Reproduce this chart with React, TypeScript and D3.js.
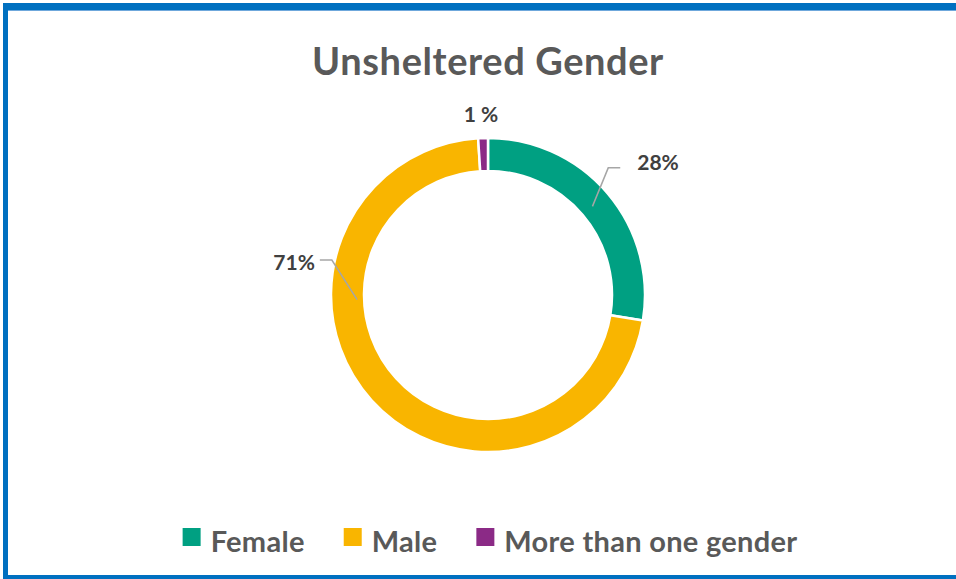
import { useEffect, useRef } from 'react';
import * as d3 from 'd3';

const categories = ['Female', 'Male', 'More than one gender'];
const shares = [27.6, 71.4, 1.0];
const shareLabels = ['28%', '71%', '1 %'];
const colors = ['#00A082', '#F9B500', '#8B2A86'];

const width = 956;
const height = 579;

export default function App() {
  const svgRef = useRef<SVGSVGElement>(null);

  useEffect(() => {
    const svg = d3.select(svgRef.current);
    svg.selectAll('*').remove();

    svg.append('rect').attr('width', width).attr('height', height).attr('fill', '#ffffff');

    // frame (right side is cut off in the screenshot)
    const blue = '#0070C0';
    svg.append('rect').attr('x', 3).attr('y', 3).attr('width', width - 3).attr('height', 7).attr('fill', blue);
    svg.append('rect').attr('x', 3).attr('y', 3).attr('width', 5).attr('height', height - 3).attr('fill', blue);
    svg.append('line').attr('x1', 8).attr('x2', width).attr('y1', 10.5).attr('y2', 10.5)
      .attr('stroke', '#6FA8DC').attr('stroke-width', 1);

    const font = 'Lato, "Open Sans", sans-serif';

    svg.append('text')
      .attr('x', 488).attr('y', 75)
      .attr('text-anchor', 'middle')
      .style('font-family', font).style('font-weight', 700).style('font-size', '38px')
      .style('letter-spacing', '0.6px')
      .attr('fill', '#595959')
      .text('Unsheltered Gender');

    const cx = 488, cy = 295;
    const outerR = 157, innerR = 124;

    const pie = d3.pie<number>().sort(null).value(d => d);
    const arcs = pie(shares);
    const arc = d3.arc<d3.PieArcDatum<number>>().innerRadius(innerR).outerRadius(outerR);

    const g = svg.append('g').attr('transform', `translate(${cx},${cy})`);
    g.selectAll('path')
      .data(arcs)
      .enter()
      .append('path')
      .attr('d', arc)
      .attr('fill', (d, i) => colors[i])
      .attr('stroke', '#ffffff')
      .attr('stroke-width', 2.5);

    // label placement as Excel left it: leader start/elbow given as angle (deg) + radius
    const deg = Math.PI / 180;
    const pt = (a: number, r: number): [number, number] => [Math.sin(a * deg) * r, -Math.cos(a * deg) * r];
    const layouts = [
      { start: [null, 137], elbow: [43.4, 175], dir: 1, gap: 17, base: 2 },
      { start: [268, 131], elbow: [282.6, 160], dir: -1, gap: 5, base: 10 },
      { start: null, text: [357.8, 181] },
    ] as any[];

    arcs.forEach((a, i) => {
      const L = layouts[i];
      const mid = (a.startAngle + a.endAngle) / 2 / deg;
      const label = g.append('text')
        .style('font-family', font).style('font-weight', 700).style('font-size', '21px')
        .attr('fill', '#404040')
        .text(shareLabels[i]);
      if (L.start) {
        const s = pt(L.start[0] ?? mid, L.start[1]);
        const e = pt(L.elbow[0], L.elbow[1]);
        const end: [number, number] = [e[0] + 12 * L.dir, e[1]];
        g.append('path')
          .attr('d', d3.line()([s, e, end]))
          .attr('fill', 'none')
          .attr('stroke', '#A6A6A6')
          .attr('stroke-width', 1.5);
        label
          .attr('x', end[0] + L.gap * L.dir)
          .attr('y', end[1] + L.base)
          .attr('text-anchor', L.dir > 0 ? 'start' : 'end');
      } else {
        const p = pt(L.text[0], L.text[1]);
        label
          .attr('x', p[0]).attr('y', p[1])
          .attr('dy', '0.36em')
          .attr('text-anchor', 'middle');
      }
    });

    // legend
    const legend = svg.append('g');
    const sq = 18, gapText = 10, gapItem = 39;
    let x = 0;
    categories.forEach((c, i) => {
      const it = legend.append('g');
      it.append('rect').attr('x', 0).attr('y', -24).attr('width', sq).attr('height', sq).attr('fill', colors[i]);
      const t = it.append('text')
        .attr('x', sq + gapText).attr('y', 0)
        .style('font-family', font).style('font-weight', 700).style('font-size', '29px')
        .style('letter-spacing', '0.3px')
        .attr('fill', '#595959')
        .text(c);
      const w = sq + gapText + (t.node() as SVGTextElement).getComputedTextLength();
      it.attr('transform', `translate(${x},0)`);
      x += w + gapItem;
    });
    const total = x - gapItem;
    legend.attr('transform', `translate(${490 - total / 2},552)`);

    // bottom frame drawn over legend text (text is clipped there)
    svg.append('rect').attr('x', 3).attr('y', height - 4).attr('width', width - 3).attr('height', 4).attr('fill', blue);
  }, []);

  return (
    <svg
      ref={svgRef}
      width={width}
      height={height}
      style={{ position: 'absolute', top: 0, left: 0 }}
    />
  );
}
